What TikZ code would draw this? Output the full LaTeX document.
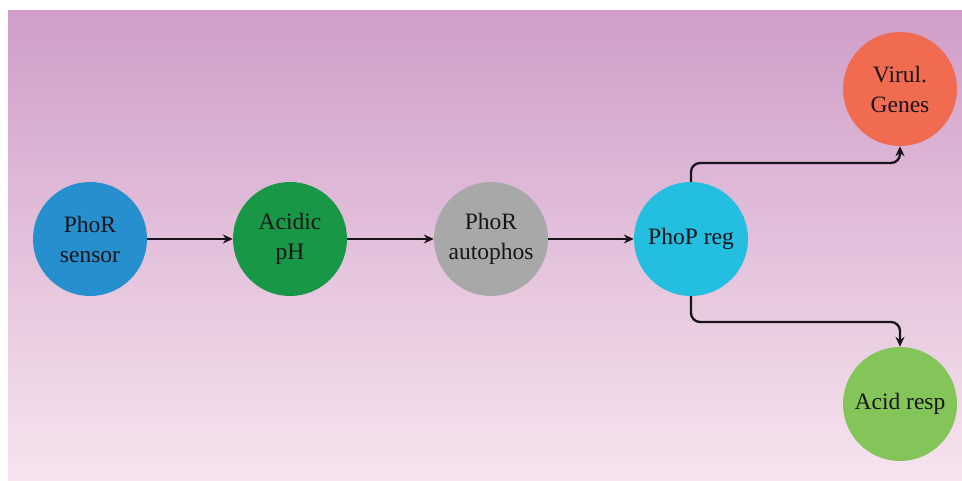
\documentclass[tikz,border=0pt]{standalone}
\usepackage{fontspec}
\setmainfont{Liberation Serif}
\usetikzlibrary{arrows.meta}
\definecolor{bgtop}{RGB}{208,158,200}
\definecolor{bgbot}{RGB}{246,228,239}
\definecolor{cblue}{RGB}{38,144,207}
\definecolor{cgreen}{RGB}{24,152,70}
\definecolor{cgrey}{RGB}{168,168,168}
\definecolor{ccyan}{RGB}{36,190,224}
\definecolor{corange}{RGB}{240,107,80}
\definecolor{clime}{RGB}{132,197,90}
\definecolor{ink}{RGB}{25,20,25}
\tikzset{
  stepnode/.style={circle, minimum size=114pt, inner sep=0pt, align=center,
    text=ink, font=\fontsize{23.5}{30}\selectfont},
  arr/.style={draw=ink, line width=2.3pt, -{Stealth[length=10pt,width=9pt]}},
}
\begin{document}
\begin{tikzpicture}[x=1pt,y=1pt]
\useasboundingbox (0,0) rectangle (962,481);
\fill[white] (0,0) rectangle (962,481);
\shade[top color=bgtop, bottom color=bgbot] (8,0) rectangle (962,470);
\node[stepnode, fill=cblue] (sensor) at (90,242) {PhoR\\sensor};
\node[stepnode, fill=cgreen] (acidic) at (290,242) {Acidic\\pH};
\node[stepnode, fill=cgrey] (autophos) at (491,242) {PhoR\\autophos};
\node[stepnode, fill=ccyan] (phop) at (691,242) {PhoP reg};
\node[stepnode, fill=corange] (virul) at (900,392) {Virul.\\Genes};
\node[stepnode, fill=clime] (acidresp) at (900,77) {Acid resp};
\draw[arr] (sensor) -- (acidic);
\draw[arr] (acidic) -- (autophos);
\draw[arr] (autophos) -- (phop);
\draw[arr, rounded corners=9pt] (phop.north) -- (phop.north |- 0,318) -- (virul.south |- 0,318) -- (virul.south);
\draw[arr, rounded corners=9pt] (phop.south) -- (phop.south |- 0,159) -- (acidresp.north |- 0,159) -- (acidresp.north);
\end{tikzpicture}
\end{document}
